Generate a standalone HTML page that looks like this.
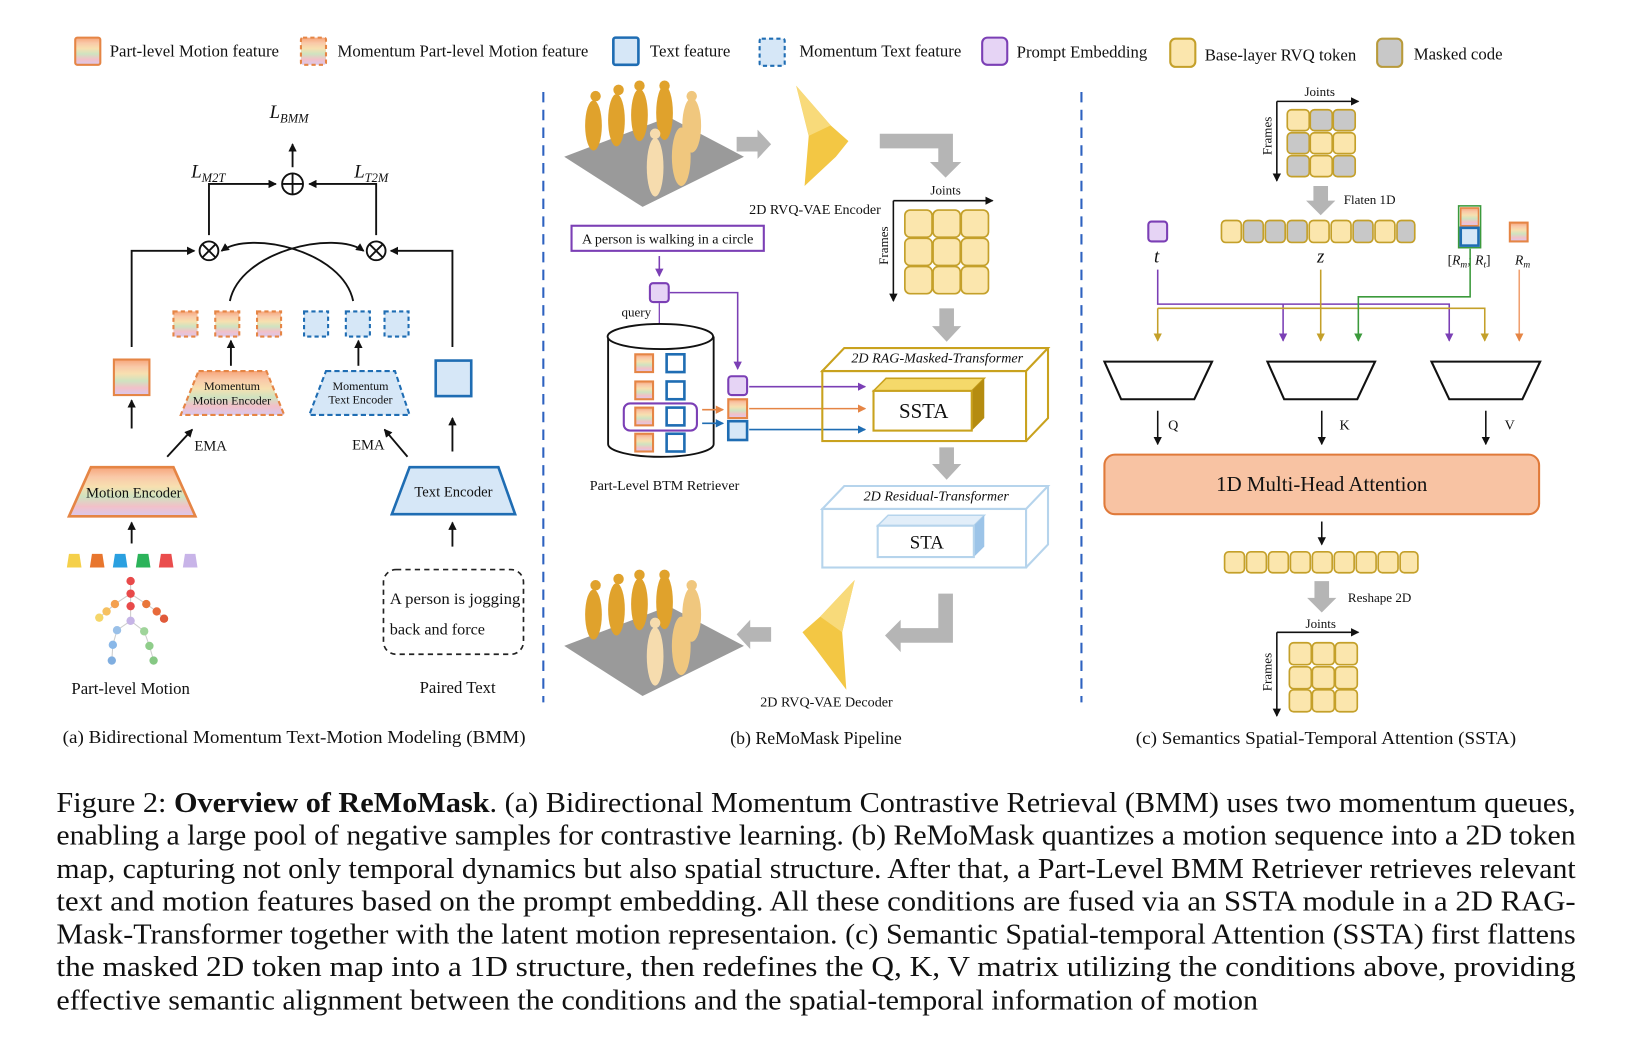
<!DOCTYPE html>
<html><head><meta charset="utf-8"><style>
html,body{margin:0;padding:0;background:#fff;}
svg{display:block;}
text{font-family:"Liberation Serif",serif;fill:#111;}
</style></head><body>
<svg width="1630" height="1042" viewBox="0 0 1560 997" preserveAspectRatio="none" xmlns="http://www.w3.org/2000/svg">
<defs>
<linearGradient id="st" x1="0" y1="0" x2="0" y2="1">
<stop offset="0" stop-color="#f6a57a"/><stop offset="0.2" stop-color="#f9c9a8"/><stop offset="0.4" stop-color="#f7e0b0"/><stop offset="0.6" stop-color="#cfe3c0"/><stop offset="0.8" stop-color="#f2c0c8"/><stop offset="1" stop-color="#d9c8ee"/>
</linearGradient>
<marker id="a" markerWidth="8" markerHeight="8" refX="7" refY="4" orient="auto" markerUnits="userSpaceOnUse"><path d="M0,0 L8,4 L0,8 z" fill="#111"/></marker>
<marker id="ap" markerWidth="8" markerHeight="8" refX="7" refY="4" orient="auto" markerUnits="userSpaceOnUse"><path d="M0,0 L8,4 L0,8 z" fill="#7b3fb5"/></marker>
<marker id="ao" markerWidth="8" markerHeight="8" refX="7" refY="4" orient="auto" markerUnits="userSpaceOnUse"><path d="M0,0 L8,4 L0,8 z" fill="#e58545"/></marker>
<marker id="ab" markerWidth="8" markerHeight="8" refX="7" refY="4" orient="auto" markerUnits="userSpaceOnUse"><path d="M0,0 L8,4 L0,8 z" fill="#1f6db3"/></marker>
<marker id="ay" markerWidth="8" markerHeight="8" refX="7" refY="4" orient="auto" markerUnits="userSpaceOnUse"><path d="M0,0 L8,4 L0,8 z" fill="#c4a02a"/></marker>
<marker id="ag" markerWidth="8" markerHeight="8" refX="7" refY="4" orient="auto" markerUnits="userSpaceOnUse"><path d="M0,0 L8,4 L0,8 z" fill="#3c9a3c"/></marker>
<g id="fig">
<path d="M540,150 L640,112 L712,150 L615,198 z" fill="#9a9a9a"/>
<g fill="#e0a22c">
<ellipse cx="568" cy="120" rx="8" ry="24"/><ellipse cx="590" cy="115" rx="8" ry="25"/><ellipse cx="612" cy="110" rx="8" ry="25"/><ellipse cx="636" cy="108" rx="8" ry="26"/>
<circle cx="570" cy="92" r="5"/><circle cx="592" cy="86" r="5"/><circle cx="612" cy="82" r="5"/><circle cx="636" cy="82" r="5"/>
</g>
<g fill="#f0c77e"><ellipse cx="662" cy="120" rx="9" ry="26"/><circle cx="662" cy="92" r="5"/><ellipse cx="652" cy="150" rx="9" ry="28"/></g>
<g fill="#f6dcae"><ellipse cx="627" cy="160" rx="8" ry="28"/><circle cx="627" cy="128" r="5"/></g>
</g>
</defs>

<!-- Legend -->
<g font-size="16">
<rect x="72" y="36" width="24" height="26" rx="2" fill="url(#st)" stroke="#e58545" stroke-width="2"/>
<text x="105" y="54" textLength="162" lengthAdjust="spacingAndGlyphs">Part-level Motion feature</text>
<rect x="288" y="36" width="24" height="26" rx="2" fill="url(#st)" stroke="#e58545" stroke-width="2" stroke-dasharray="4,3"/>
<text x="323" y="54" textLength="240" lengthAdjust="spacingAndGlyphs">Momentum Part-level Motion feature</text>
<rect x="587" y="36" width="24" height="26" rx="2" fill="#d6e7f7" stroke="#1f6db3" stroke-width="2.5"/>
<text x="622" y="54" textLength="77" lengthAdjust="spacingAndGlyphs">Text feature</text>
<rect x="727" y="37" width="24" height="26" rx="2" fill="#d6e7f7" stroke="#1f6db3" stroke-width="2" stroke-dasharray="4,3"/>
<text x="765" y="54" textLength="155" lengthAdjust="spacingAndGlyphs">Momentum Text feature</text>
<rect x="940" y="36" width="24" height="26" rx="5" fill="#e6d4f5" stroke="#7b3fb5" stroke-width="2"/>
<text x="973" y="55" textLength="125" lengthAdjust="spacingAndGlyphs">Prompt Embedding</text>
<rect x="1120" y="37" width="24" height="27" rx="5" fill="#fbe6ad" stroke="#c4a02a" stroke-width="2"/>
<text x="1153" y="58" textLength="145" lengthAdjust="spacingAndGlyphs">Base-layer RVQ token</text>
<rect x="1318" y="37" width="24" height="27" rx="5" fill="#c8c8c8" stroke="#b89a3a" stroke-width="2"/>
<text x="1353" y="57" textLength="85" lengthAdjust="spacingAndGlyphs">Masked code</text>
</g>

<!-- dividers -->
<line x1="520" y1="88" x2="520" y2="672" stroke="#2e62c0" stroke-width="2" stroke-dasharray="10,7"/>
<line x1="1035" y1="88" x2="1035" y2="672" stroke="#2e62c0" stroke-width="2" stroke-dasharray="10,7"/>

<!-- Panel (a) -->
<g stroke="#111" stroke-width="1.8" fill="none">
<line x1="280" y1="160" x2="280" y2="138" marker-end="url(#a)"/>
<circle cx="280" cy="176" r="10"/><line x1="270" y1="176" x2="290" y2="176"/><line x1="280" y1="166" x2="280" y2="186"/>
<polyline points="200,225 200,176 264,176" marker-end="url(#a)"/>
<polyline points="360,225 360,176 296,176" marker-end="url(#a)"/>
<circle cx="200" cy="240" r="9"/><path d="M194,234 L206,246 M206,234 L194,246"/>
<circle cx="360" cy="240" r="9"/><path d="M354,234 L366,246 M366,234 L354,246"/>
<polyline points="126,332 126,240 186,240" marker-end="url(#a)"/>
<polyline points="433,332 433,240 374,240" marker-end="url(#a)"/>
<path d="M220,288 C230,240 320,220 348,240" marker-end="url(#a)"/>
<path d="M338,288 C328,240 240,220 212,240" marker-end="url(#a)"/>
<line x1="221" y1="350" x2="221" y2="326" marker-end="url(#a)"/>
<line x1="343" y1="350" x2="343" y2="326" marker-end="url(#a)"/>
<line x1="126" y1="410" x2="126" y2="383" marker-end="url(#a)"/>
<line x1="433" y1="432" x2="433" y2="400" marker-end="url(#a)"/>
<line x1="160" y1="437" x2="184" y2="411" marker-end="url(#a)"/>
<line x1="390" y1="437" x2="368" y2="411" marker-end="url(#a)"/>
<line x1="126" y1="520" x2="126" y2="500" marker-end="url(#a)"/>
<line x1="433" y1="523" x2="433" y2="500" marker-end="url(#a)"/>
</g>
<text x="258" y="113" font-size="18" font-style="italic">L<tspan font-size="12" dy="4">BMM</tspan></text>
<text x="183" y="170" font-size="18" font-style="italic">L<tspan font-size="12" dy="4">M2T</tspan></text>
<text x="339" y="170" font-size="18" font-style="italic">L<tspan font-size="12" dy="4">T2M</tspan></text>
<g stroke="#e58545" stroke-width="2" stroke-dasharray="4,3" fill="url(#st)">
<rect x="166" y="298" width="23" height="24"/><rect x="206" y="298" width="23" height="24"/><rect x="246" y="298" width="23" height="24"/>
</g>
<g stroke="#1f6db3" stroke-width="2" stroke-dasharray="4,3" fill="#d6e7f7">
<rect x="291" y="298" width="23" height="24"/><rect x="331" y="298" width="23" height="24"/><rect x="368" y="298" width="23" height="24"/>
</g>
<rect x="109" y="344" width="34" height="34" fill="url(#st)" stroke="#e58545" stroke-width="2"/>
<rect x="417" y="345" width="34" height="34" fill="#d6e7f7" stroke="#1f6db3" stroke-width="2.5"/>
<path d="M190,355 L255,355 L272,397 L173,397 z" fill="url(#st)" stroke="#e58545" stroke-width="2" stroke-dasharray="5,3"/>
<text x="222" y="373" font-size="11.5" text-anchor="middle">Momentum</text>
<text x="222" y="387" font-size="11.5" text-anchor="middle">Motion Encoder</text>
<path d="M312,355 L378,355 L392,397 L296,397 z" fill="#d6e7f7" stroke="#1f6db3" stroke-width="2" stroke-dasharray="5,3"/>
<text x="345" y="373" font-size="11.5" text-anchor="middle">Momentum</text>
<text x="345" y="386" font-size="11.5" text-anchor="middle">Text Encoder</text>
<text x="186" y="431" font-size="14">EMA</text>
<text x="337" y="430" font-size="14">EMA</text>
<path d="M87,447 L166,447 L187,494 L66,494 z" fill="url(#st)" stroke="#e58545" stroke-width="2.5"/>
<text x="128" y="476" font-size="14" text-anchor="middle">Motion Encoder</text>
<path d="M392,447 L477,447 L493,492 L375,492 z" fill="#d6e7f7" stroke="#1f6db3" stroke-width="2.5"/>
<text x="434" y="475" font-size="14" text-anchor="middle">Text Encoder</text>
<g>
<path d="M64,543 L66,530 L76,530 L78,543z" fill="#f5d04a"/>
<path d="M86,543 L88,530 L98,530 L100,543z" fill="#e8762e"/>
<path d="M108,543 L110,530 L120,530 L122,543z" fill="#2aa0e0"/>
<path d="M130,543 L132,530 L142,530 L144,543z" fill="#2bb35a"/>
<path d="M152,543 L154,530 L164,530 L166,543z" fill="#ea4d4d"/>
<path d="M175,543 L177,530 L187,530 L189,543z" fill="#c8b4e8"/>
</g>
<g stroke="#ccc" stroke-width="1" fill="none">
<path d="M125,556 L125,594 L112,603 L108,617 L107,632 M125,594 L138,604 L143,618 L147,632 M125,568 L110,578 L102,585 L95,591 M125,568 L140,578 L150,585 L157,592"/>
</g>
<g>
<circle cx="125" cy="556" r="4" fill="#e84a4a"/><circle cx="125" cy="568" r="4" fill="#e84a4a"/><circle cx="125" cy="580" r="4" fill="#e84a4a"/>
<circle cx="110" cy="578" r="4" fill="#f4a050"/><circle cx="102" cy="585" r="4" fill="#f6c060"/><circle cx="95" cy="591" r="4" fill="#f5d66a"/>
<circle cx="140" cy="578" r="4" fill="#e9763a"/><circle cx="150" cy="585" r="4" fill="#e86a3a"/><circle cx="157" cy="592" r="4" fill="#e05a3a"/>
<circle cx="125" cy="594" r="4" fill="#c6b4e6"/><circle cx="112" cy="603" r="4" fill="#9ac0e8"/><circle cx="108" cy="617" r="4" fill="#8ab8e8"/><circle cx="107" cy="632" r="4" fill="#80aee0"/>
<circle cx="138" cy="604" r="4" fill="#9fd49a"/><circle cx="143" cy="618" r="4" fill="#8fcd8a"/><circle cx="147" cy="632" r="4" fill="#86c884"/>
</g>
<rect x="367" y="545" width="134" height="81" rx="12" fill="none" stroke="#222" stroke-width="1.6" stroke-dasharray="5,4"/>
<text x="373" y="578" font-size="15.5" textLength="125" lengthAdjust="spacingAndGlyphs">A person is jogging</text>
<text x="373" y="607" font-size="15.5">back and force</text>
<text x="125" y="664" font-size="16" text-anchor="middle">Part-level Motion</text>
<text x="438" y="663" font-size="16" text-anchor="middle">Paired Text</text>
<text x="60" y="711" font-size="17" textLength="443" lengthAdjust="spacingAndGlyphs">(a) Bidirectional Momentum Text-Motion Modeling (BMM)</text>

<!-- Panel (b) -->
<use href="#fig"/>
<use href="#fig" transform="translate(0,468)"/>
<path d="M705,131 L725,131 L725,124 L738,138 L725,152 L725,145 L705,145 z" fill="#b5b5b5"/>
<path d="M738,600 L718,600 L718,593 L705,607 L718,621 L718,614 L738,614 z" fill="#b5b5b5"/>
<path d="M762,82 L795,120 L812,135 L800,150 L770,178 L774,130 z" fill="#f3c744"/>
<path d="M762,82 L795,120 L774,130 z" fill="#f8da7a"/>
<path d="M818,555 L785,590 L768,605 L780,620 L810,660 L806,605 z" fill="#f3c744"/>
<path d="M818,555 L806,605 L785,590 z" fill="#f8da7a"/>
<text x="780" y="205" font-size="13.5" text-anchor="middle">2D RVQ-VAE Encoder</text>
<text x="791" y="676" font-size="13.5" text-anchor="middle">2D RVQ-VAE Decoder</text>
<path d="M842,128 L912,128 L912,155 L920,155 L905,170 L890,155 L898,155 L898,142 L842,142 z" fill="#b5b5b5"/>
<path d="M912,568 L912,615 L862,615 L862,624 L847,608 L862,593 L862,601 L898,601 L898,568 z" fill="#b5b5b5"/>
<g stroke="#111" stroke-width="1.5">
<line x1="855" y1="192" x2="950" y2="192" marker-end="url(#a)"/>
<line x1="855" y1="192" x2="855" y2="288" marker-end="url(#a)"/>
</g>
<text x="905" y="186" font-size="12.5" text-anchor="middle">Joints</text>
<text x="850" y="235" font-size="12.5" text-anchor="middle" transform="rotate(-90 850 235)">Frames</text>
<g fill="#fbe6ad" stroke="#c4a02a" stroke-width="1.6">
<rect x="866" y="201" width="26" height="26" rx="5"/><rect x="893" y="201" width="26" height="26" rx="5"/><rect x="920" y="201" width="26" height="26" rx="5"/>
<rect x="866" y="228" width="26" height="26" rx="5"/><rect x="893" y="228" width="26" height="26" rx="5"/><rect x="920" y="228" width="26" height="26" rx="5"/>
<rect x="866" y="255" width="26" height="26" rx="5"/><rect x="893" y="255" width="26" height="26" rx="5"/><rect x="920" y="255" width="26" height="26" rx="5"/>
</g>
<path d="M899,295 L913,295 L913,312 L920,312 L906,327 L892,312 L899,312 z" fill="#b5b5b5"/>
<path d="M899,428 L913,428 L913,444 L920,444 L906,459 L892,444 L899,444 z" fill="#b5b5b5"/>
<rect x="547" y="216" width="184" height="24" fill="#fff" stroke="#7b3fb5" stroke-width="2"/>
<text x="639" y="233" font-size="13.5" text-anchor="middle">A person is walking in a circle</text>
<line x1="631" y1="245" x2="631" y2="264" stroke="#7b3fb5" stroke-width="1.5" marker-end="url(#ap)"/>
<rect x="622" y="271" width="18" height="18" rx="3" fill="#e6d4f5" stroke="#7b3fb5" stroke-width="2"/>
<polyline points="641,280 706,280 706,353" fill="none" stroke="#7b3fb5" stroke-width="1.5" marker-end="url(#ap)"/>
<line x1="631" y1="290" x2="631" y2="400" stroke="#7b3fb5" stroke-width="1.2"/>
<text x="609" y="303" font-size="12.5" text-anchor="middle">query</text>
<path d="M582,322 L582,425 A50,12 0 0 0 683,425 L683,322" fill="#fff" stroke="#111" stroke-width="1.8"/>
<ellipse cx="632" cy="322" rx="50.5" ry="12" fill="#fff" stroke="#111" stroke-width="1.8"/>
<g>
<rect x="608" y="339" width="17" height="17" fill="url(#st)" stroke="#e58545" stroke-width="2"/><rect x="638" y="339" width="17" height="17" fill="#fff" stroke="#1f6db3" stroke-width="2.5"/>
<rect x="608" y="365" width="17" height="17" fill="url(#st)" stroke="#e58545" stroke-width="2"/><rect x="638" y="365" width="17" height="17" fill="#fff" stroke="#1f6db3" stroke-width="2.5"/>
<rect x="608" y="390" width="17" height="17" fill="url(#st)" stroke="#e58545" stroke-width="2"/><rect x="638" y="390" width="17" height="17" fill="#fff" stroke="#1f6db3" stroke-width="2.5"/>
<rect x="608" y="415" width="17" height="17" fill="url(#st)" stroke="#e58545" stroke-width="2"/><rect x="638" y="415" width="17" height="17" fill="#fff" stroke="#1f6db3" stroke-width="2.5"/>
</g>
<rect x="597" y="386" width="70" height="26" rx="6" fill="none" stroke="#7b3fb5" stroke-width="2"/>
<line x1="672" y1="392" x2="692" y2="392" stroke="#e58545" stroke-width="1.5" marker-end="url(#ao)"/>
<line x1="672" y1="405" x2="692" y2="405" stroke="#1f6db3" stroke-width="1.5" marker-end="url(#ab)"/>
<rect x="697" y="360" width="18" height="18" rx="3" fill="#e6d4f5" stroke="#7b3fb5" stroke-width="2"/>
<rect x="697" y="382" width="18" height="18" fill="url(#st)" stroke="#e58545" stroke-width="2"/>
<rect x="697" y="403" width="18" height="18" fill="#d6e7f7" stroke="#1f6db3" stroke-width="2.5"/>
<line x1="717" y1="370" x2="828" y2="370" stroke="#7b3fb5" stroke-width="1.5" marker-end="url(#ap)"/>
<line x1="717" y1="391" x2="828" y2="391" stroke="#e58545" stroke-width="1.5" marker-end="url(#ao)"/>
<line x1="717" y1="411" x2="828" y2="411" stroke="#1f6db3" stroke-width="1.5" marker-end="url(#ab)"/>
<text x="636" y="469" font-size="13.5" text-anchor="middle">Part-Level BTM Retriever</text>
<!-- RAG box -->
<g fill="none" stroke="#c9a21e" stroke-width="2">
<path d="M787,355 L808,333 L1003,333 L982,355 z" fill="#fff"/>
<rect x="787" y="355" width="195" height="67"/>
<path d="M982,422 L1003,400 L1003,333"/>
</g>
<text x="897" y="347" font-size="13.5" font-style="italic" text-anchor="middle">2D RAG-Masked-Transformer</text>
<path d="M836,374 L848,362 L942,362 L930,374 z" fill="#f5d96a" stroke="#c9a21e" stroke-width="1.5"/>
<path d="M930,374 L942,362 L942,400 L930,412 z" fill="#b58c10"/>
<rect x="836" y="374" width="94" height="38" fill="#fff" stroke="#c9a21e" stroke-width="2"/>
<text x="884" y="400" font-size="20" text-anchor="middle">SSTA</text>
<!-- Residual -->
<g fill="none" stroke="#b6d4ec" stroke-width="2">
<path d="M787,487 L808,465 L1003,465 L982,487 z" fill="#fff"/>
<rect x="787" y="487" width="195" height="56"/>
<path d="M982,543 L1003,521 L1003,465"/>
</g>
<text x="896" y="479" font-size="13.5" font-style="italic" text-anchor="middle">2D Residual-Transformer</text>
<path d="M840,503 L850,493 L942,493 L932,503 z" fill="#e2eef9" stroke="#b6d4ec" stroke-width="1.5"/>
<path d="M932,503 L942,493 L942,523 L932,533 z" fill="#9cc4e8"/>
<rect x="840" y="503" width="92" height="30" fill="#fff" stroke="#b6d4ec" stroke-width="2"/>
<text x="887" y="525" font-size="18" text-anchor="middle">STA</text>
<text x="781" y="712" font-size="17" text-anchor="middle">(b) ReMoMask Pipeline</text>

<!-- Panel (c) -->
<g stroke="#111" stroke-width="1.5">
<line x1="1222" y1="97" x2="1300" y2="97" marker-end="url(#a)"/>
<line x1="1222" y1="97" x2="1222" y2="173" marker-end="url(#a)"/>
<line x1="1222" y1="605" x2="1300" y2="605" marker-end="url(#a)"/>
<line x1="1222" y1="605" x2="1222" y2="685" marker-end="url(#a)"/>
</g>
<text x="1263" y="92" font-size="12.5" text-anchor="middle">Joints</text>
<text x="1217" y="130" font-size="12.5" text-anchor="middle" transform="rotate(-90 1217 130)">Frames</text>
<text x="1264" y="601" font-size="12.5" text-anchor="middle">Joints</text>
<text x="1217" y="643" font-size="12.5" text-anchor="middle" transform="rotate(-90 1217 643)">Frames</text>
<g stroke="#c4a02a" stroke-width="1.6">
<rect x="1232" y="105" width="21" height="20" rx="4" fill="#fbe6ad"/><rect x="1254" y="105" width="21" height="20" rx="4" fill="#c8c8c8"/><rect x="1276" y="105" width="21" height="20" rx="4" fill="#c8c8c8"/>
<rect x="1232" y="127" width="21" height="20" rx="4" fill="#c8c8c8"/><rect x="1254" y="127" width="21" height="20" rx="4" fill="#fbe6ad"/><rect x="1276" y="127" width="21" height="20" rx="4" fill="#fbe6ad"/>
<rect x="1232" y="149" width="21" height="20" rx="4" fill="#c8c8c8"/><rect x="1254" y="149" width="21" height="20" rx="4" fill="#fbe6ad"/><rect x="1276" y="149" width="21" height="20" rx="4" fill="#c8c8c8"/>
</g>
<g stroke="#c4a02a" stroke-width="1.6" fill="#fbe6ad">
<rect x="1234" y="615" width="21" height="21" rx="4"/><rect x="1256" y="615" width="21" height="21" rx="4"/><rect x="1278" y="615" width="21" height="21" rx="4"/>
<rect x="1234" y="638" width="21" height="21" rx="4"/><rect x="1256" y="638" width="21" height="21" rx="4"/><rect x="1278" y="638" width="21" height="21" rx="4"/>
<rect x="1234" y="660" width="21" height="21" rx="4"/><rect x="1256" y="660" width="21" height="21" rx="4"/><rect x="1278" y="660" width="21" height="21" rx="4"/>
</g>
<path d="M1257,178 L1271,178 L1271,192 L1278,192 L1264,206 L1250,192 L1257,192 z" fill="#b5b5b5"/>
<text x="1286" y="195" font-size="12.5">Flaten 1D</text>
<path d="M1258,556 L1272,556 L1272,572 L1279,572 L1265,586 L1251,572 L1258,572 z" fill="#b5b5b5"/>
<text x="1290" y="576" font-size="12.5">Reshape 2D</text>
<g stroke="#c4a02a" stroke-width="1.6">
<rect x="1169" y="211" width="19" height="21" rx="4" fill="#fbe6ad"/><rect x="1190" y="211" width="19" height="21" rx="4" fill="#c8c8c8"/><rect x="1211" y="211" width="19" height="21" rx="4" fill="#c8c8c8"/>
<rect x="1232" y="211" width="19" height="21" rx="4" fill="#c8c8c8"/><rect x="1253" y="211" width="19" height="21" rx="4" fill="#fbe6ad"/><rect x="1274" y="211" width="19" height="21" rx="4" fill="#fbe6ad"/>
<rect x="1295" y="211" width="19" height="21" rx="4" fill="#c8c8c8"/><rect x="1316" y="211" width="19" height="21" rx="4" fill="#fbe6ad"/><rect x="1337" y="211" width="17" height="21" rx="4" fill="#c8c8c8"/>
</g>
<g stroke="#c4a02a" stroke-width="1.6" fill="#fbe6ad">
<rect x="1172" y="528" width="19" height="20" rx="4"/><rect x="1193" y="528" width="19" height="20" rx="4"/><rect x="1214" y="528" width="19" height="20" rx="4"/>
<rect x="1235" y="528" width="19" height="20" rx="4"/><rect x="1256" y="528" width="19" height="20" rx="4"/><rect x="1277" y="528" width="19" height="20" rx="4"/>
<rect x="1298" y="528" width="19" height="20" rx="4"/><rect x="1319" y="528" width="19" height="20" rx="4"/><rect x="1340" y="528" width="17" height="20" rx="4"/>
</g>
<rect x="1099" y="212" width="18" height="19" rx="3" fill="#e6d4f5" stroke="#7b3fb5" stroke-width="2"/>
<text x="1107" y="251" font-size="18" font-style="italic" text-anchor="middle">t</text>
<text x="1264" y="251" font-size="18" font-style="italic" text-anchor="middle">z</text>
<rect x="1396" y="197" width="21" height="40" fill="none" stroke="#3c9a3c" stroke-width="1.5"/>
<rect x="1398" y="199" width="17" height="17" fill="url(#st)" stroke="#e58545" stroke-width="1.5"/>
<rect x="1398" y="218" width="17" height="17" fill="#d6e7f7" stroke="#1f6db3" stroke-width="2.5"/>
<text x="1406" y="253" font-size="13" text-anchor="middle" fill="#444">[<tspan font-style="italic">R<tspan font-size="9" dy="3">m</tspan><tspan dy="-3">; R</tspan><tspan font-size="9" dy="3">t</tspan></tspan><tspan dy="-3">]</tspan></text>
<rect x="1445" y="213" width="17" height="18" fill="url(#st)" stroke="#e58545" stroke-width="2"/>
<text x="1450" y="253" font-size="13" font-style="italic" fill="#444">R<tspan font-size="9" dy="3">m</tspan></text>
<!-- lines -->
<polyline points="1108,258 1108,291 1387,291 1387,326" fill="none" stroke="#7b3fb5" stroke-width="1.5" marker-end="url(#ap)"/>
<polyline points="1228,291 1228,326" fill="none" stroke="#7b3fb5" stroke-width="1.5" marker-end="url(#ap)"/>
<polyline points="1108,295 1421,295 1421,326" fill="none" stroke="#c4a02a" stroke-width="1.5" marker-end="url(#ay)"/>
<polyline points="1108,295 1108,326" fill="none" stroke="#c4a02a" stroke-width="1.5" marker-end="url(#ay)"/>
<polyline points="1264,258 1264,326" fill="none" stroke="#c4a02a" stroke-width="1.5" marker-end="url(#ay)"/>
<polyline points="1407,238 1407,284 1300,284 1300,326" fill="none" stroke="#3c9a3c" stroke-width="1.5" marker-end="url(#ag)"/>
<line x1="1454" y1="258" x2="1454" y2="326" stroke="#f0a070" stroke-width="1.5" marker-end="url(#ao)"/>
<g fill="#fff" stroke="#111" stroke-width="2">
<path d="M1057,346 L1160,346 L1143,382 L1073,382 z"/>
<path d="M1213,346 L1316,346 L1299,382 L1229,382 z"/>
<path d="M1370,346 L1474,346 L1457,382 L1387,382 z"/>
</g>
<g stroke="#111" stroke-width="1.5">
<line x1="1108" y1="393" x2="1108" y2="425" marker-end="url(#a)"/>
<line x1="1265" y1="393" x2="1265" y2="425" marker-end="url(#a)"/>
<line x1="1422" y1="393" x2="1422" y2="425" marker-end="url(#a)"/>
<line x1="1265" y1="499" x2="1265" y2="521" marker-end="url(#a)"/>
</g>
<text x="1118" y="411" font-size="13.5">Q</text><text x="1282" y="411" font-size="13.5">K</text><text x="1440" y="411" font-size="13.5">V</text>
<rect x="1057" y="435" width="416" height="57" rx="10" fill="#f8c3a3" stroke="#e07a3a" stroke-width="2"/>
<text x="1265" y="470" font-size="20" text-anchor="middle">1D Multi-Head Attention</text>
<text x="1087" y="712" font-size="17" textLength="364" lengthAdjust="spacingAndGlyphs">(c) Semantics Spatial-Temporal Attention (SSTA)</text>

<!-- Caption -->
<g font-size="27.5">
<text x="54" y="777" textLength="1454" lengthAdjust="spacingAndGlyphs">Figure 2: <tspan font-weight="bold">Overview of ReMoMask</tspan>. (a) Bidirectional Momentum Contrastive Retrieval (BMM) uses two momentum queues,</text>
<text x="54" y="808" textLength="1454" lengthAdjust="spacingAndGlyphs">enabling a large pool of negative samples for contrastive learning. (b) ReMoMask quantizes a motion sequence into a 2D token</text>
<text x="54" y="840" textLength="1454" lengthAdjust="spacingAndGlyphs">map, capturing not only temporal dynamics but also spatial structure. After that, a Part-Level BMM Retriever retrieves relevant</text>
<text x="54" y="871" textLength="1454" lengthAdjust="spacingAndGlyphs">text and motion features based on the prompt embedding. All these conditions are fused via an SSTA module in a 2D RAG-</text>
<text x="54" y="903" textLength="1454" lengthAdjust="spacingAndGlyphs">Mask-Transformer together with the latent motion representaion. (c) Semantic Spatial-temporal Attention (SSTA) first flattens</text>
<text x="54" y="934" textLength="1454" lengthAdjust="spacingAndGlyphs">the masked 2D token map into a 1D structure, then redefines the Q, K, V matrix utilizing the conditions above, providing</text>
<text x="54" y="966" textLength="1150" lengthAdjust="spacingAndGlyphs">effective semantic alignment between the conditions and the spatial-temporal information of motion</text>
</g>
</svg>
</body></html>
